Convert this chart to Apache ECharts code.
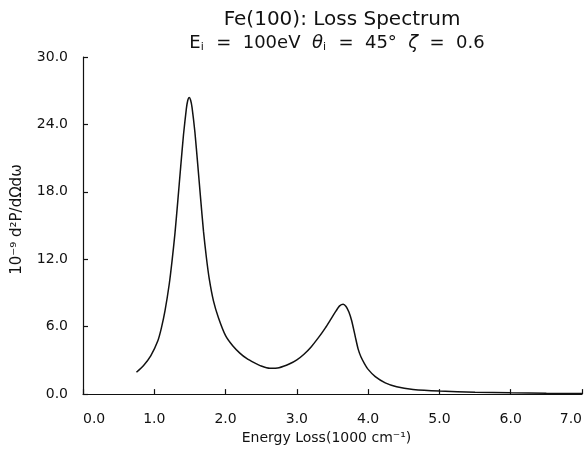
<!DOCTYPE html>
<html>
<head>
<meta charset="utf-8">
<script src="https://cdn.jsdelivr.net/npm/echarts@6/dist/echarts.min.js"></script>
<style>
  html, body { margin: 0; padding: 0; background: #fff; }
  #chart { width: 587px; height: 450px; }
</style>
</head>
<body>
<div id="chart"></div>
<script>
// energy loss (1000 cm^-1) and loss spectrum (10^-9 d2P/dOmega dw)
const energyLoss = [
  0.75, 0.85, 0.95, 1.05, 1.1, 1.15, 1.21, 1.25, 1.29, 1.33, 1.37, 1.41, 1.45, 1.47, 1.49,
  1.51, 1.53, 1.57, 1.61, 1.65, 1.69, 1.73, 1.77, 1.83, 1.9, 2.0, 2.1, 2.2, 2.3, 2.4, 2.5,
  2.62, 2.75, 2.9, 3.0, 3.1, 3.2, 3.3, 3.4, 3.48, 3.55, 3.6, 3.65, 3.69, 3.73, 3.77,
  3.82, 3.86, 3.9, 3.95, 4.0, 4.1, 4.24, 4.4, 4.63, 5.0, 5.5, 6.0, 6.5, 7.0
];
const lossSpectrum = [
  1.95, 2.55, 3.4, 4.75, 5.9, 7.4, 9.8, 11.9, 14.3, 17.2, 20.2, 23.1, 25.4, 26.15, 26.4,
  26.15, 25.5, 23.3, 20.4, 17.4, 14.5, 12.2, 10.3, 8.3, 6.8, 5.2, 4.3, 3.65, 3.15, 2.8, 2.5,
  2.3, 2.35, 2.7, 3.05, 3.55, 4.2, 5.0, 5.9, 6.7, 7.4, 7.85, 8.0, 7.8, 7.3, 6.5,
  5.1, 4.0, 3.3, 2.7, 2.2, 1.55, 1.0, 0.65, 0.42, 0.27, 0.17, 0.11, 0.07, 0.05
];
const xTicks = [0, 7, 1];   // min, max, interval
const yTicks = [0, 30, 6];

const FONT = 'DejaVu Sans';
const INK = '#111';

const chart = echarts.init(document.getElementById('chart'));

chart.setOption({
  backgroundColor: '#fff',
  animation: false,
  title: [
    {
      text: 'Fe(100): Loss Spectrum',
      left: 337,
      top: 5,
      textAlign: 'center',
      textStyle: { fontFamily: FONT, fontSize: 20, fontWeight: 'normal', color: INK }
    },
    {
      text: 'E{sub|i}  =  100eV  {it|θ}{sub|i}  =  45°  {it|ζ}  =  0.6',
      left: 332,
      top: 28,
      textAlign: 'center',
      textStyle: {
        fontFamily: FONT, fontSize: 18, fontWeight: 'normal', color: INK,
        rich: {
          sub: { fontFamily: FONT, fontSize: 11, color: INK, padding: [9, 1, 0, 0] },
          it: { fontFamily: FONT, fontSize: 18, fontStyle: 'italic', color: INK }
        }
      }
    }
  ],
  grid: { left: 83, right: 5, top: 57, bottom: 52 },
  xAxis: {
    type: 'value',
    min: xTicks[0],
    max: xTicks[1],
    interval: xTicks[2],
    name: 'Energy Loss(1000 cm⁻¹)',
    nameLocation: 'middle',
    nameGap: 36,
    nameTextStyle: { fontFamily: FONT, fontSize: 14, color: INK, padding: [0, 12, 0, 0] },
    axisLine: { lineStyle: { color: INK, width: 1.2 } },
    axisTick: { inside: true, length: 5, lineStyle: { color: INK, width: 1.2 } },
    axisLabel: {
      margin: 18,
      fontFamily: FONT, fontSize: 14, color: INK,
      alignMinLabel: 'left',
      alignMaxLabel: 'right',
      formatter: v => v.toFixed(1)
    },
    splitLine: { show: false }
  },
  yAxis: {
    type: 'value',
    min: yTicks[0],
    max: yTicks[1],
    interval: yTicks[2],
    name: '10⁻⁹ d²P/dΩdω',
    nameLocation: 'middle',
    nameGap: 58,
    nameRotate: 90,
    nameTextStyle: { fontFamily: FONT, fontSize: 15, color: INK, padding: [0, 0, 0, 12] },
    axisLine: { show: true, lineStyle: { color: INK, width: 1.2 } },
    axisTick: { show: true, inside: true, length: 5, lineStyle: { color: INK, width: 1.2 } },
    axisLabel: {
      margin: 15,
      fontFamily: FONT, fontSize: 14, color: INK,
      formatter: v => v.toFixed(1)
    },
    splitLine: { show: false }
  },
  series: [{
    type: 'line',
    data: energyLoss.map((x, i) => [x, lossSpectrum[i]]),
    showSymbol: false,
    smooth: 0.2,
    lineStyle: { color: INK, width: 1.5 }
  }]
});
</script>
</body>
</html>
